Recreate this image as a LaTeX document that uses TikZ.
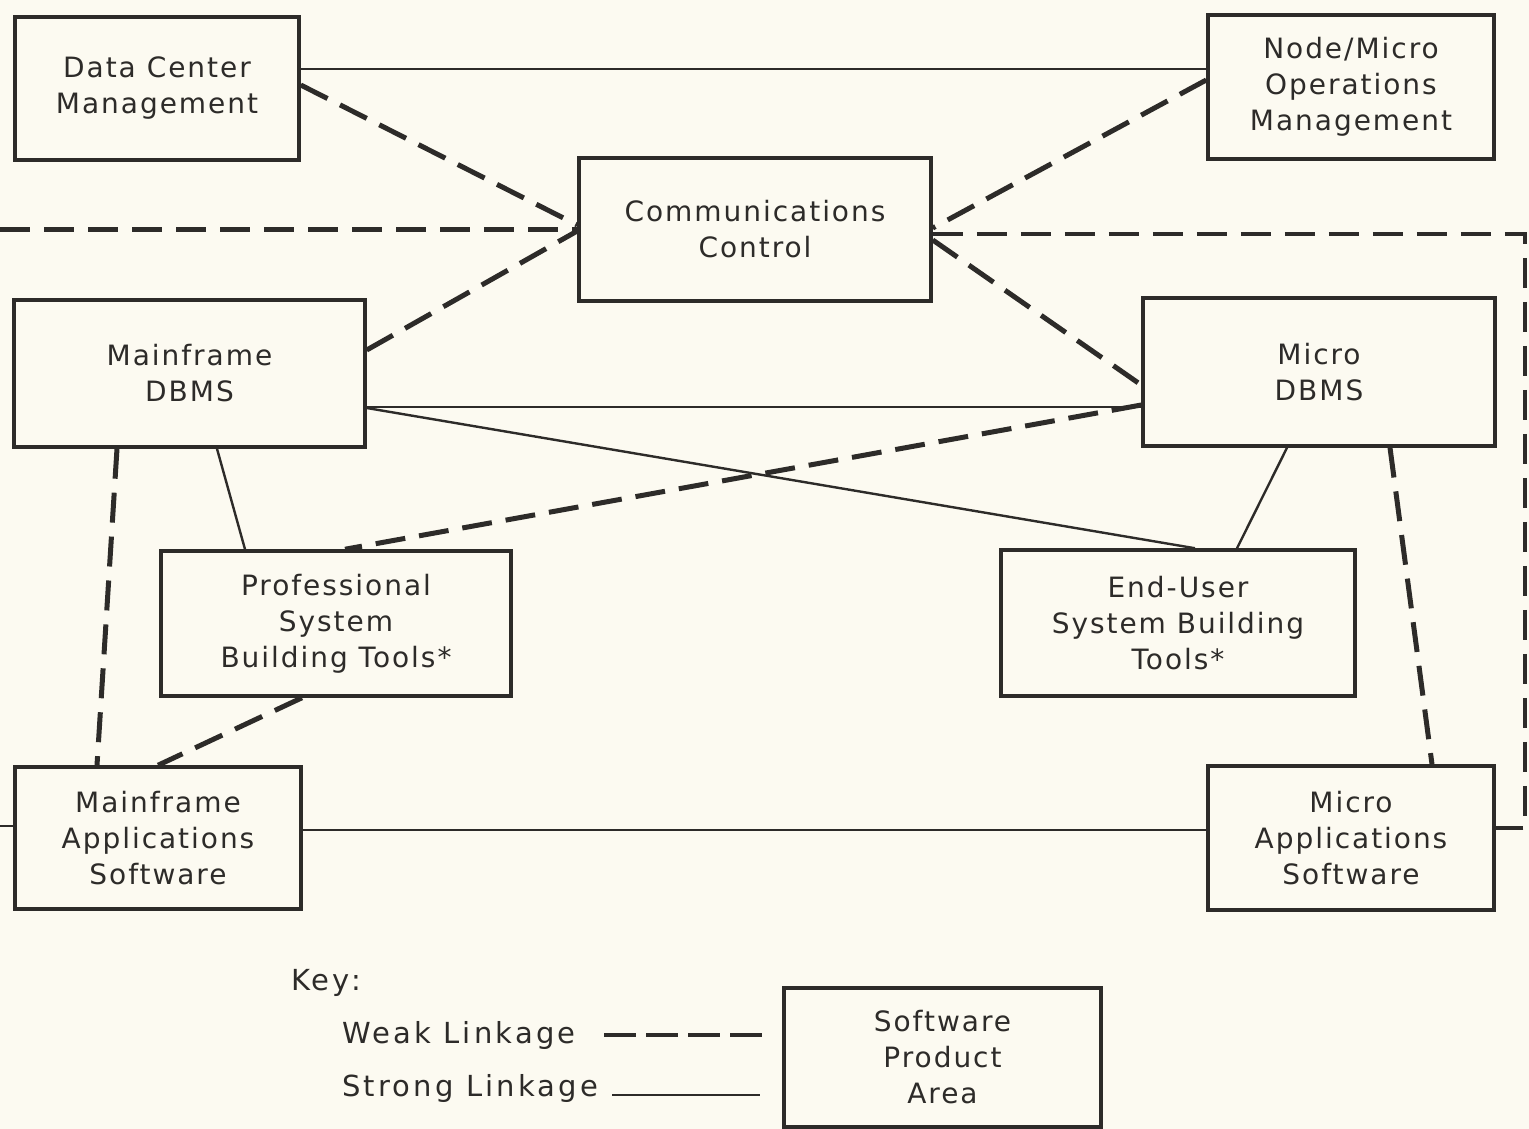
\documentclass[tikz,border=0pt]{standalone}
\usepackage{fontspec}
\setmainfont[LetterSpace=7]{DejaVu Sans}
\newfontfamily\keyfont[LetterSpace=11]{DejaVu Sans}
\definecolor{paper}{RGB}{252,250,241}
\definecolor{ink}{RGB}{45,43,41}
\begin{document}
\begin{tikzpicture}[x=1pt,y=-1pt,
  box/.style={draw=ink,line width=3.5pt,align=center,inner sep=0pt,
    font=\fontsize{28}{36}\selectfont,text=ink},
  strong/.style={draw=ink,line width=2.4pt},
  weak/.style={draw=ink,line width=5pt,dash pattern=on 30pt off 14pt},
  lbl/.style={anchor=west,inner sep=0pt,font=\keyfont\fontsize{29}{36}\selectfont,text=ink}]
\fill[paper] (0,0) rectangle (1529,1129);
\useasboundingbox (0,0) rectangle (1529,1129);
\node[box,minimum width=284pt,minimum height=143pt] (dcm) at (157,88.5) {Data Center\\Management};
\node[box,minimum width=286pt,minimum height=144pt] (nmom) at (1351,87) {Node/Micro\\Operations\\Management};
\node[box,minimum width=352pt,minimum height=143pt] (cc) at (755,229.5) {Communications\\Control};
\node[box,minimum width=351pt,minimum height=147pt] (mdb) at (189.5,373.5) {Mainframe\\DBMS};
\node[box,minimum width=352pt,minimum height=148pt] (udb) at (1319,372) {Micro\\DBMS};
\node[box,minimum width=350pt,minimum height=145pt] (pst) at (336,623.5) {Professional\\System\\Building Tools*};
\node[box,minimum width=354pt,minimum height=146pt] (eust) at (1178,623) {End-User\\System Building\\Tools*};
\node[box,minimum width=286pt,minimum height=142pt] (mas) at (158,838) {Mainframe\\Applications\\Software};
\node[box,minimum width=286pt,minimum height=144pt] (uas) at (1351,838) {Micro\\Applications\\Software};
\node[box,minimum width=317pt,minimum height=139pt] (spa) at (942.5,1057.5) {Software\\Product\\Area};
% connectors
\draw[strong] (dcm.east |- 0,69) -- (nmom.west |- 0,69);
\draw[weak] (dcm.east |- 0,85) -- (cc.west |- 0,225);
\draw[weak] (nmom.west |- 0,80) -- (cc.east |- 0,228);
\coordinate (L1) at (0,229);
\draw[weak] (L1) -- (cc.west |- 0,229);
\draw[weak] (mdb.east |- 0,350) -- (cc.west |- 0,231);
\coordinate (R1) at (1525,234);
\coordinate (R2) at (1525,828);
\draw[weak,line width=4.5pt] (cc.east |- 0,234) -- (R1) -- (R2) -- (uas.east |- 0,828);
\draw[weak] (cc.east |- 0,240) -- (udb.west |- 0,385);
\draw[strong] (mdb.east |- 0,407) -- (udb.west |- 0,407);
\draw[strong] (mdb.east |- 0,408) -- (eust.north -| 1195,0);
\draw[weak] (udb.west |- 0,405) -- (pst.north -| 345,0);
\draw[strong] (mdb.south -| 217,0) -- (pst.north -| 245,0);
\draw[strong] (udb.south -| 1287,0) -- (eust.north -| 1237,0);
\draw[weak] (mdb.south -| 117,0) -- (mas.north -| 97,0);
\draw[weak] (udb.south -| 1390,0) -- (uas.north -| 1432,0);
\draw[weak] (pst.south -| 302,0) -- (mas.north -| 158,0);
\draw[strong] (mas.east |- 0,830) -- (uas.west |- 0,830);
\coordinate (L2) at (0,826);
\draw[strong] (L2) -- (mas.west |- 0,826);
% key
\node[lbl] (key) at (291,983) {Key:};
\node[lbl] (weakl) at (342,1035) {Weak Linkage};
\node[lbl] (strongl) at (342,1088) {Strong Linkage};
\coordinate (K1) at (604,1035);
\coordinate (K2) at (762,1035);
\coordinate (K3) at (612,1095);
\coordinate (K4) at (760,1095);
\draw[weak,line width=4pt,dash pattern=on 32pt off 10pt] (K1) -- (K2);
\draw[strong,line width=1.6pt] (K3) -- (K4);
\end{tikzpicture}
\end{document}
